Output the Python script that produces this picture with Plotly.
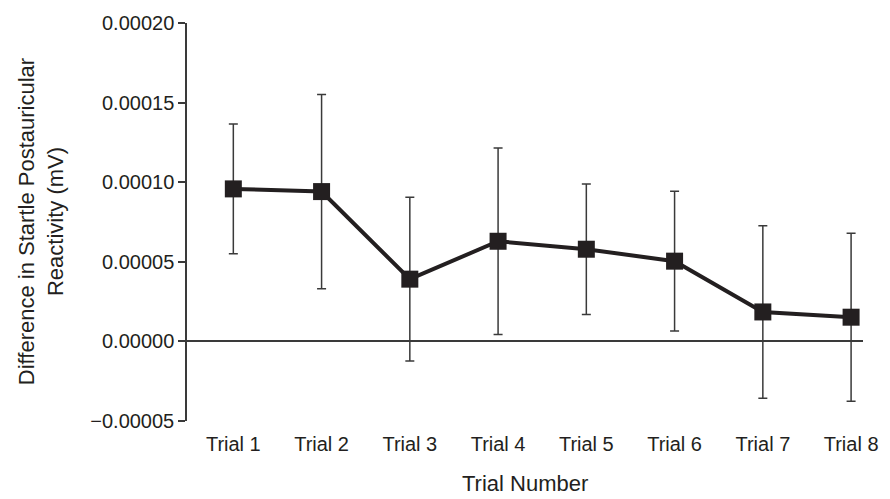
import plotly.graph_objects as go

trials = ["Trial 1", "Trial 2", "Trial 3", "Trial 4", "Trial 5", "Trial 6", "Trial 7", "Trial 8"]
means = [9.58e-5, 9.41e-5, 3.91e-5, 6.29e-5, 5.79e-5, 5.04e-5, 1.85e-5, 1.52e-5]
errors = [4.07e-5, 6.10e-5, 5.14e-5, 5.86e-5, 4.10e-5, 4.39e-5, 5.42e-5, 5.28e-5]
y_ticks = [-0.00005, 0.0, 0.00005, 0.0001, 0.00015, 0.0002]

INK = "#231f20"
AX = "#3a3a3a"
NARROW = "Liberation Sans Narrow, Arial Narrow, Liberation Sans, Arial, sans-serif"
REG = "Liberation Sans, Arial, sans-serif"

fig = go.Figure()
fig.add_trace(go.Scatter(
    x=trials, y=means,
    mode="lines+markers",
    line=dict(color=INK, width=4),
    marker=dict(symbol="square", size=17, color=INK),
    error_y=dict(type="data", array=errors, visible=True,
                 color=AX, thickness=1.5, width=4.5),
    showlegend=False,
))

fig.update_layout(
    width=890, height=499,
    margin=dict(l=187, r=17, t=20, b=78),
    paper_bgcolor="white", plot_bgcolor="white",
    xaxis=dict(
        type="category", range=[-0.525, 7.135],
        showline=False, showgrid=False, zeroline=False, ticks="",
        tickfont=dict(family=NARROW, size=20, color=INK),
        ticklabelstandoff=9,
    ),
    yaxis=dict(
        range=[-0.00005, 0.0002],
        tickvals=y_ticks, tickformat=".5f",
        showline=True, linecolor=AX, linewidth=1.5,
        ticks="outside", ticklen=7, tickcolor=AX, tickwidth=1.5,
        showgrid=False,
        zeroline=True, zerolinecolor=AX, zerolinewidth=1.5,
        tickfont=dict(family=REG, size=20, color=INK),
    ),
    annotations=[
        dict(text="Difference in Startle Postauricular<br>Reactivity (mV)",
             xref="paper", yref="paper", x=(39 - 187) / 686, y=0.5,
             xanchor="center", yanchor="middle", textangle=-90,
             showarrow=False, font=dict(family=NARROW, size=22, color=INK)),
        dict(text="Trial Number",
             xref="paper", yref="paper", x=0.5, y=(421 - 484) / 401,
             xanchor="center", yanchor="middle",
             showarrow=False, font=dict(family=NARROW, size=22, color=INK)),
    ],
)

fig.write_html(
    "out.html",
    config={"displayModeBar": False},
    post_script="document.body.style.margin='0';document.body.style.padding='0';",
)
